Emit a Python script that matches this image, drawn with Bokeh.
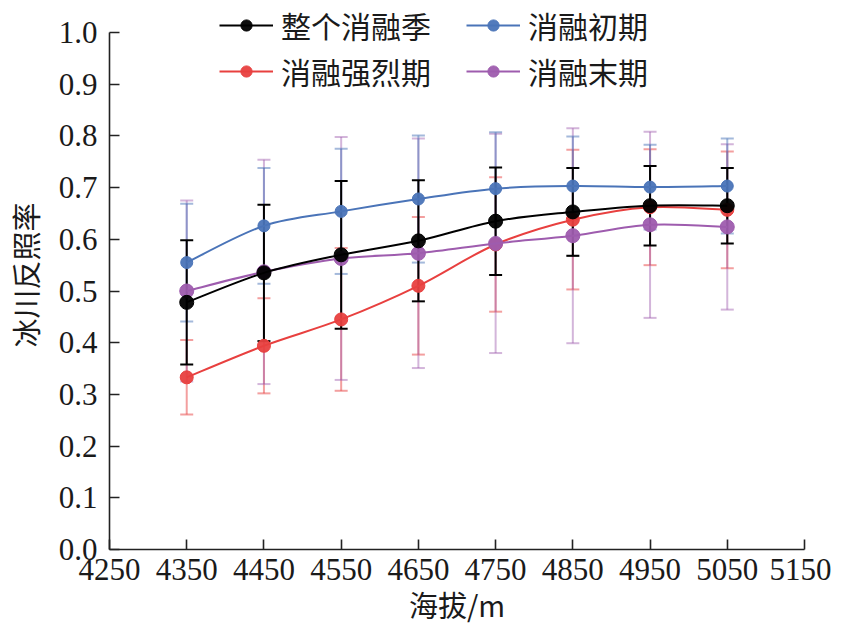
import numpy as np
from bokeh.plotting import figure
from bokeh.models import (ColumnDataSource, Whisker, TeeHead, Legend, LegendItem,
                          FixedTicker, Range1d, CustomJSTickFormatter)
from bokeh.embed import file_html
from bokeh.resources import INLINE

# ---------------- data ----------------
altitude = [4350, 4450, 4550, 4650, 4750, 4850, 4950, 5050]

whole_mean = [0.478, 0.535, 0.570, 0.597, 0.635, 0.653, 0.665, 0.665]
whole_err = [0.120, 0.132, 0.143, 0.117, 0.104, 0.085, 0.077, 0.073]

early_mean = [0.555, 0.626, 0.654, 0.678, 0.698, 0.703, 0.701, 0.703]
early_err = [0.114, 0.112, 0.121, 0.123, 0.109, 0.096, 0.082, 0.092]

strong_mean = [0.333, 0.394, 0.445, 0.510, 0.590, 0.638, 0.662, 0.657]
strong_err = [0.072, 0.092, 0.138, 0.133, 0.130, 0.135, 0.112, 0.113]

late_mean = [0.500, 0.537, 0.563, 0.573, 0.592, 0.607, 0.628, 0.624]
late_err = [0.175, 0.217, 0.235, 0.222, 0.212, 0.208, 0.180, 0.160]

x_ticks = [4250, 4350, 4450, 4550, 4650, 4750, 4850, 4950, 5050, 5150]
y_ticks = [0.0, 0.1, 0.2, 0.3, 0.4, 0.5, 0.6, 0.7, 0.8, 0.9, 1.0]

series_names = ["整个消融季", "消融初期", "消融强烈期", "消融末期"]
# ---------------------------------------

SERIF = "Liberation Serif"
CJK = "Noto Sans CJK SC"

FIG_H = 634
FRAME_H = 549            # frame from top of canvas down to the x axis
Y_TOP = FRAME_H / 517.0  # 0..1 spans 517 px; the rest above holds the legend

p = figure(width=831, height=FIG_H, output_backend="svg", toolbar_location=None,
           x_range=Range1d(4250, 5150), y_range=Range1d(0, Y_TOP),
           min_border_left=102, min_border_right=27, min_border_top=0,
           min_border_bottom=FIG_H - FRAME_H)
p.outline_line_color = None
p.grid.grid_line_color = None
p.background_fill_color = "white"

for ax in (p.xaxis[0], p.yaxis[0]):
    ax.axis_line_color = "#222222"
    ax.axis_line_width = 1.6
    ax.major_tick_line_color = "#222222"
    ax.major_tick_line_width = 1.6
    ax.major_tick_in = 10
    ax.major_tick_out = 0
    ax.minor_tick_line_color = None
    ax.major_label_text_font = SERIF
    ax.major_label_text_font_size = "31px"
    ax.major_label_text_color = "#1a1a1a"
    ax.axis_label_text_font = CJK
    ax.axis_label_text_font_size = "29px"
    ax.axis_label_text_font_style = "normal"
    ax.axis_label_text_color = "#1a1a1a"

p.xaxis.ticker = FixedTicker(ticks=x_ticks)
p.yaxis.ticker = FixedTicker(ticks=y_ticks)
p.yaxis.bounds = (0, 1.0)
p.yaxis.formatter = CustomJSTickFormatter(code="return tick.toFixed(1);")
p.xaxis.major_label_standoff = 9
p.yaxis.major_label_standoff = 12
p.xaxis.axis_label = "海拔/m"
p.yaxis.axis_label = "冰川反照率"
p.xaxis.axis_label_standoff = 0
p.yaxis.axis_label_standoff = 10


def bezier_controls(xs, ys):
    xs = np.asarray(xs, float)
    ys = np.asarray(ys, float)
    n = len(xs)
    out = dict(x0=[], y0=[], x1=[], y1=[], cx0=[], cy0=[], cx1=[], cy1=[])
    for i in range(n - 1):
        i0 = max(i - 1, 0)
        i3 = min(i + 2, n - 1)
        out["x0"].append(xs[i]); out["y0"].append(ys[i])
        out["x1"].append(xs[i + 1]); out["y1"].append(ys[i + 1])
        out["cx0"].append(xs[i] + (xs[i + 1] - xs[i0]) / 6)
        out["cy0"].append(ys[i] + (ys[i + 1] - ys[i0]) / 6)
        out["cx1"].append(xs[i + 1] - (xs[i3] - xs[i]) / 6)
        out["cy1"].append(ys[i + 1] - (ys[i3] - ys[i]) / 6)
    return out


specs = [
    # name, mean, err, color, err_alpha, marker size
    (series_names[2], strong_mean, strong_err, "#e8403f", 0.5, 13),
    (series_names[3], late_mean, late_err, "#9e5cae", 0.45, 14),
    (series_names[1], early_mean, early_err, "#4a74b8", 0.5, 12),
    (series_names[0], whole_mean, whole_err, "#000000", 1.0, 14),
]

legend_parts = {}
for name, mean, err, color, ealpha, msize in specs:
    m = np.array(mean)
    e = np.array(err)
    src = ColumnDataSource(dict(x=altitude, y=mean,
                                upper=list(m + e), lower=list(m - e),
                                blank=[np.nan] * len(altitude)))
    head = dict(size=13, line_color=color, line_alpha=ealpha, line_width=2)
    w = Whisker(source=src, base="x", upper="upper", lower="lower",
                line_color=color, line_alpha=ealpha, line_width=2,
                upper_head=TeeHead(**head), lower_head=TeeHead(**head))
    p.add_layout(w)
    bz = ColumnDataSource(bezier_controls(altitude, mean))
    p.bezier(x0="x0", y0="y0", x1="x1", y1="y1", cx0="cx0", cy0="cy0",
             cx1="cx1", cy1="cy1", source=bz, line_color=color, line_width=2)
    sc = p.scatter("x", "y", source=src, size=msize, fill_color=color,
                   line_color=color, fill_alpha=0.95)
    # line used only for the legend swatch (no visible points)
    ln = p.line("x", "blank", source=src, line_color=color, line_width=2)
    legend_parts[name] = [ln, sc]


def make_legend(names, loc):
    lg = Legend(items=[LegendItem(label=n, renderers=legend_parts[n]) for n in names],
                location=loc, orientation="horizontal")
    lg.label_text_font = CJK
    lg.label_text_font_size = "30px"
    lg.label_text_color = "#1a1a1a"
    lg.glyph_width = 54
    lg.glyph_height = 28
    lg.label_standoff = 8
    lg.label_width = 185
    lg.spacing = 0
    lg.padding = 0
    lg.margin = 0
    lg.border_line_color = None
    lg.background_fill_alpha = 0
    p.add_layout(lg, "center")


make_legend([series_names[0], series_names[1]], (110, FRAME_H - 47))
make_legend([series_names[2], series_names[3]], (110, FRAME_H - 93))

open("out.html", "w").write(file_html(p, INLINE))
